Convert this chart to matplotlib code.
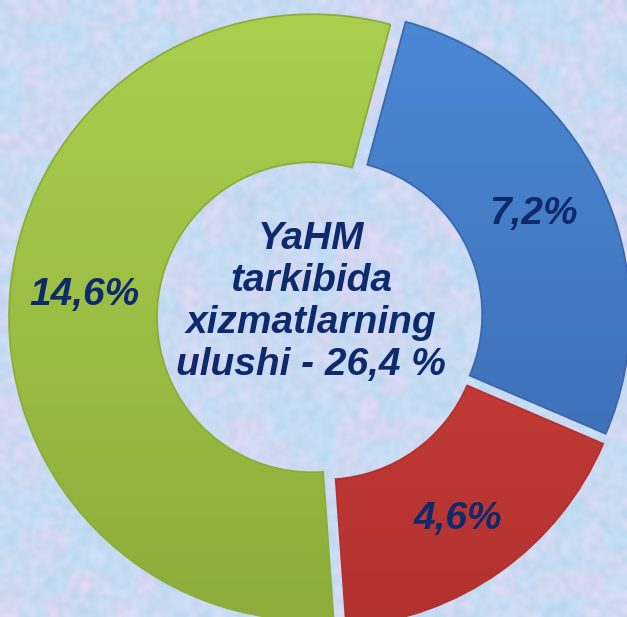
import numpy as np
import matplotlib
matplotlib.use("Agg")
import matplotlib.pyplot as plt
from matplotlib.patches import Wedge
from matplotlib.colors import LinearSegmentedColormap

# данные
values = [7.2, 4.6, 14.6]
labels = ["7,2%", "4,6%", "14,6%"]
center_text = "YaHM\ntarkibida\nxizmatlarning\nulushi - 26,4 %"

colors_top = ["#4C89D6", "#DA463E", "#ABD04F"]
colors_bot = ["#3968AD", "#B23230", "#8CAD3A"]
text_color = "#0F2A6C"

W, H = 627, 617
fig = plt.figure(figsize=(W / 100, H / 100), dpi=100)
ax = fig.add_axes([0, 0, 1, 1])

# фон: пастельная "бумага"
rng = np.random.default_rng(7)
coarse = rng.random((30, 30))
fine = rng.random((140, 140))
k = np.kron(coarse, np.ones((140 // 30 + 1, 140 // 30 + 1)))[:140, :140]
t = (0.55 * k + 0.45 * fine) ** 1.6
blue = np.array([190, 222, 244]) / 255
pink = np.array([226, 212, 240]) / 255
bg = blue[None, None, :] * (1 - t[..., None]) + pink[None, None, :] * t[..., None]
bg = np.clip(bg + (fine[..., None] - 0.5) * 0.06, 0, 1)
ax.imshow(bg, extent=(0, W, 0, H), interpolation="bicubic", zorder=0, aspect="auto")

cx, cy = 320, 299
R = 303
ring = 148
total = sum(values)

wedges, _, autotexts = ax.pie(
    values,
    radius=R,
    center=(cx, cy),
    startangle=75,
    counterclock=False,
    explode=[8, 8, 8],
    colors=colors_top,
    labels=None,
    autopct=lambda p: labels[[round(v / total * 100, 3) for v in values].index(round(p, 3))],
    pctdistance=(R - ring / 2) / R,
    wedgeprops=dict(width=ring, edgecolor="none", linewidth=0),
    textprops=dict(color=text_color, fontsize=28, fontweight="bold",
                   fontstyle="italic", family="Liberation Sans"),
    frame=True,
)

# градиент внутри сегментов (светлее сверху, темнее снизу)
grad = np.linspace(0, 1, 256)[:, None] * np.ones((1, 2))
for w, ct, cb in zip(wedges, colors_top, colors_bot):
    cmap = LinearSegmentedColormap.from_list("g", [ct, cb])
    im = ax.imshow(grad, extent=(0, W, 0, H), origin="upper", cmap=cmap,
                   interpolation="bilinear", zorder=w.get_zorder() + 0.1, aspect="auto")
    im.set_clip_path(w)
    edge = Wedge(w.center, w.r, w.theta1, w.theta2, width=w.width,
                 facecolor="none", edgecolor=cb, linewidth=1.3,
                 zorder=w.get_zorder() + 0.2)
    ax.add_patch(edge)

for txt in autotexts:
    txt.set_zorder(5)
# метка красного сегмента чуть ниже
x0, y0 = autotexts[1].get_position()
autotexts[1].set_position((x0, y0 - 8))

ax.text(cx - 9, cy + 16, center_text, ha="center", va="center",
        color=text_color, fontsize=28, fontweight="bold", fontstyle="italic",
        family="Liberation Sans", linespacing=1.22, zorder=5)

ax.set_xlim(0, W)
ax.set_ylim(0, H)
ax.set_aspect("equal")
ax.axis("off")

fig.savefig("out.png", dpi=100)
